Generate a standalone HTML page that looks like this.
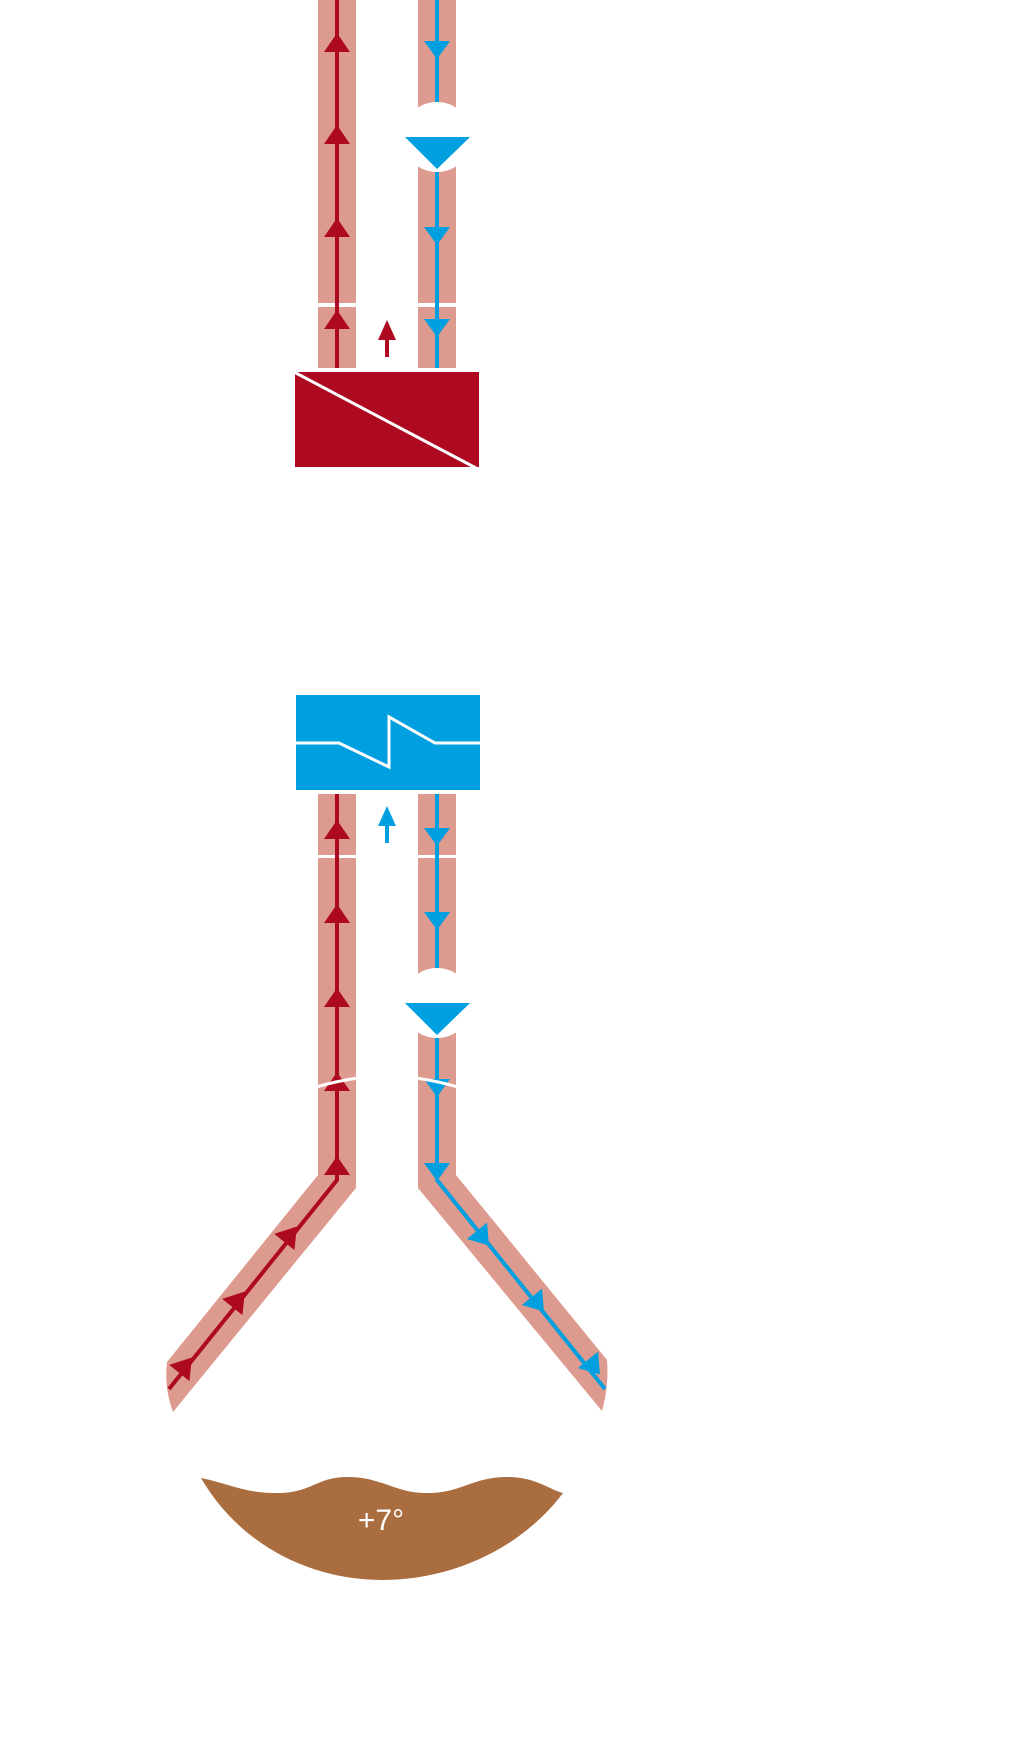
<!DOCTYPE html>
<html><head><meta charset="utf-8"><style>
html,body{margin:0;padding:0;background:#fff;}
svg{display:block;}
</style></head><body>
<svg width="1010" height="1740" viewBox="0 0 1010 1740" xmlns="http://www.w3.org/2000/svg">
<defs>
<g id="up"><polygon points="0,-10 13,9 -13,9" fill="#ad0a21"/></g>
<g id="dn"><polygon points="-13,-8 13,-8 0,10" fill="#009fdf"/></g>
</defs>
<!-- TOP SECTION -->
<rect x="318" y="0" width="38" height="368" fill="#dd9a8e"/>
<rect x="418" y="0" width="38" height="368" fill="#dd9a8e"/>
<rect x="300" y="303" width="180" height="4" fill="#fff"/>
<line x1="337" y1="0" x2="337" y2="368" stroke="#ad0a21" stroke-width="4"/>
<line x1="437" y1="0" x2="437" y2="368" stroke="#009fdf" stroke-width="4"/>
<use href="#up" x="337" y="43"/>
<use href="#up" x="337" y="135"/>
<use href="#up" x="337" y="228"/>
<use href="#up" x="337" y="320"/>
<use href="#dn" x="437" y="49"/>
<use href="#dn" x="437" y="235"/>
<use href="#dn" x="437" y="327"/>
<circle cx="437" cy="137" r="35" fill="#fff"/>
<polygon points="405,137 470,137 437,169" fill="#009fdf"/>
<polygon points="387,320 396,340 378,340" fill="#ad0a21"/>
<rect x="385" y="338" width="4" height="19" fill="#ad0a21"/>
<rect x="295" y="372" width="184" height="95" fill="#ad0a21"/>
<line x1="294" y1="372" x2="476" y2="468" stroke="#fff" stroke-width="3"/>

<!-- BOTTOM SECTION -->
<rect x="296" y="695" width="184" height="95" fill="#009fdf"/>
<polyline points="296,743 339,743 389,767 389,717 435,743 480,743" fill="none" stroke="#fff" stroke-width="3"/>
<path d="M318,794 L318,1175 L167,1362 Q164,1388 173,1412 L356,1188 L356,794 Z" fill="#dd9a8e"/>
<path d="M456,794 L456,1175 L607,1360 Q609,1386 602,1411 L418,1188 L418,794 Z" fill="#dd9a8e"/>
<rect x="300" y="855" width="180" height="3" fill="#fff"/>
<polyline points="337,794 337,1180 169,1389" fill="none" stroke="#ad0a21" stroke-width="4"/>
<polyline points="437,794 437,1180 605,1389" fill="none" stroke="#009fdf" stroke-width="4"/>
<use href="#up" x="337" y="830"/>
<use href="#up" x="337" y="914"/>
<use href="#up" x="337" y="998"/>
<use href="#up" x="337" y="1082"/>
<use href="#up" x="337" y="1166"/>
<use href="#dn" x="437" y="836"/>
<use href="#dn" x="437" y="920"/>
<use href="#dn" x="437" y="1087"/>
<use href="#dn" x="437" y="1171"/>
<path d="M316,1087 Q337,1081 358,1078" fill="none" stroke="#fff" stroke-width="3"/>
<path d="M416,1078 Q437,1081 458,1087" fill="none" stroke="#fff" stroke-width="3"/>
<circle cx="437" cy="1003" r="35" fill="#fff"/>
<polygon points="405,1003 470,1003 437,1035" fill="#009fdf"/>
<polygon points="387,806 396,826 378,826" fill="#009fdf"/>
<rect x="385" y="824" width="4" height="19" fill="#009fdf"/>
<!-- diagonal arrowheads -->
<g transform="translate(290,1235) rotate(39)"><polygon points="0,-11 13,9 -13,9" fill="#ad0a21"/></g>
<g transform="translate(238,1300) rotate(39)"><polygon points="0,-11 13,9 -13,9" fill="#ad0a21"/></g>
<g transform="translate(185,1366) rotate(39)"><polygon points="0,-11 13,9 -13,9" fill="#ad0a21"/></g>
<g transform="translate(482,1237) rotate(-39)"><polygon points="-13,-8 13,-8 0,11" fill="#009fdf"/></g>
<g transform="translate(537,1303) rotate(-39)"><polygon points="-13,-8 13,-8 0,11" fill="#009fdf"/></g>
<g transform="translate(593,1366) rotate(-39)"><polygon points="-13,-8 13,-8 0,11" fill="#009fdf"/></g>
<!-- ground -->
<path d="M201,1478 C230,1484 245,1493 275,1493 C310,1494 315,1478 345,1477 C380,1476 395,1493 425,1493 C460,1494 470,1478 505,1477 C535,1476 550,1490 563,1493 C520,1550 450,1580 383,1580 C310,1580 240,1545 201,1478 Z" fill="#a96d40"/>
<text x="381" y="1530" font-family="Liberation Sans, sans-serif" font-size="30" fill="#fff" text-anchor="middle">+7°</text>
</svg>
</body></html>
